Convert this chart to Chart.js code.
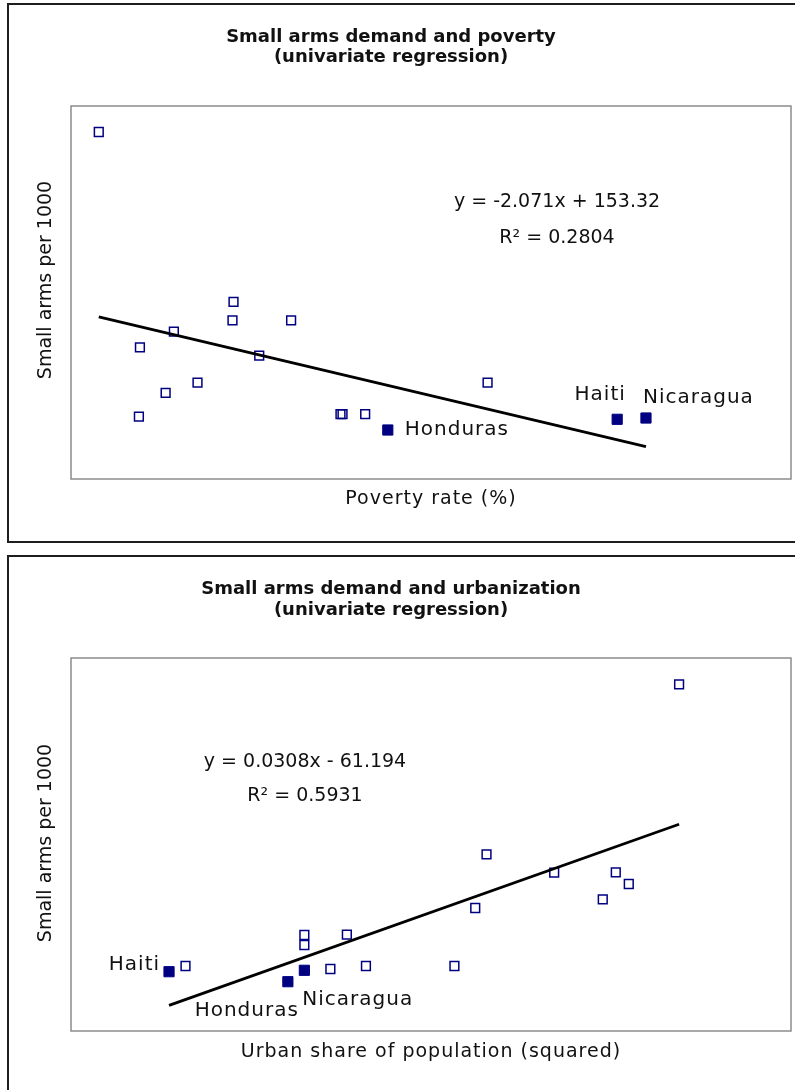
<!DOCTYPE html>
<html>
<head>
<meta charset="utf-8">
<title>Small arms demand</title>
<script src="https://cdn.jsdelivr.net/npm/chart.js@4.4.0/dist/chart.umd.min.js"></script>
<style>
  body { margin: 0; background: #fff; }
  #page { position: relative; width: 795px; height: 1090px; overflow: hidden; }
  .frame { position: absolute; left: 7px; width: 800px; border: 2px solid #1e1e1e; box-sizing: border-box; }
  .holder { position: absolute; left: 0; width: 795px; }
</style>
</head>
<body>
<div id="page">
  <div class="frame" style="top:3px;height:540px"></div>
  <div class="frame" style="top:555px;height:545px"></div>
  <div class="holder" style="top:0;height:548px"><canvas id="chartPoverty"></canvas></div>
  <div class="holder" style="top:548px;height:542px"><canvas id="chartUrban"></canvas></div>
</div>
<script>
// ---- poverty chart data (poverty rate %, small arms per 1000) ----
const povertyOpenX = [2.7, 6.7, 10.0, 15.8, 15.7, 21.4, 18.3, 9.2, 12.3, 6.6, 26.2, 26.4, 28.6, 40.5];
const povertyOpenY = [305.0, 121.9, 135.2, 160.5, 144.9, 144.9, 114.8, 83.1, 91.8, 62.9, 65.2, 65.2, 65.2, 91.8];
const povertyNames = ['Honduras', 'Haiti', 'Nicaragua'];
const povertyNamedX = [30.8, 53.1, 55.9];
const povertyNamedY = [51.6, 60.7, 61.8];
const povertySlope = -2.071;
const povertyIntercept = 153.32;
const povertyR2 = '0.2804';

// ---- urbanization chart data (urban share squared, small arms per 1000) ----
const urbanOpenX = [2390, 3760, 3760, 4250, 4060, 4470, 5490, 5730, 5860, 6640, 7350, 7500, 7200, 8080];
const urbanOpenY = [45.9, 76.9, 66.9, 77.2, 42.9, 45.9, 45.9, 103.9, 157.6, 139.2, 139.6, 127.9, 112.6, 327.6];
const urbanNames = ['Haiti', 'Honduras', 'Nicaragua'];
const urbanNamedX = [2200, 3570, 3760];
const urbanNamedY = [40.2, 30.2, 41.6];
const urbanSlope = 0.0308;
const urbanIntercept = -61.194;
const urbanR2 = '0.5931';

const NAVY = '#000080';
const FONT = '"DejaVu Sans", "Liberation Sans", sans-serif';

function toPoints(xs, ys) {
    return xs.map((x, i) => ({ x: x, y: ys[i] }));
}

// trendline over the range of x, from the fitted equation
function trendLine(allX, slope, intercept) {
    const lo = Math.min(...allX), hi = Math.max(...allX);
    return [{ x: lo, y: slope * lo + intercept }, { x: hi, y: slope * hi + intercept }];
}

function equationText(slope, intercept) {
    return 'y = ' + slope + 'x ' + (intercept < 0 ? '- ' : '+ ') + Math.abs(intercept);
}

// draws frame of plot area, titles, equation and country labels
const chartTexts = {
    id: 'chartTexts',
    beforeDatasetsDraw(chart) {
        const a = chart.chartArea, ctx = chart.ctx;
        ctx.save();
        ctx.strokeStyle = '#8c8c8c';
        ctx.lineWidth = 1.5;
        ctx.strokeRect(a.left, a.top, a.right - a.left, a.bottom - a.top);
        ctx.restore();
    },
    afterDraw(chart, args, o) {
        const ctx = chart.ctx, a = chart.chartArea;
        const xs = chart.scales.x, ys = chart.scales.y;
        ctx.save();
        ctx.fillStyle = '#111';
        ctx.textBaseline = 'alphabetic';
        ctx.textAlign = 'center';

        // title
        ctx.font = 'bold 18px ' + FONT;
        o.title.forEach((line, i) => ctx.fillText(line, o.titleX, o.titleY[i]));

        // axis titles
        ctx.textBaseline = 'middle';
        ctx.font = '19px ' + FONT;
        ctx.letterSpacing = '1px';
        ctx.fillText(o.xTitle, (a.left + a.right) / 2, o.xTitleY);
        ctx.letterSpacing = '0px';
        ctx.save();
        ctx.translate(o.yTitleX, o.yTitleY);
        ctx.rotate(-Math.PI / 2);
        ctx.fillText(o.yTitle, 0, 0);
        ctx.restore();

        // regression equation
        const ex = a.left + o.eqPos[0] * (a.right - a.left);
        ctx.fillText(o.equation, ex, a.top + o.eqPos[1] * (a.bottom - a.top));
        ctx.fillText('R\u00B2 = ' + o.r2, ex, a.top + o.eqPos[2] * (a.bottom - a.top));

        // country labels
        ctx.font = '20px ' + FONT;
        ctx.letterSpacing = '1px';
        o.names.forEach((name, i) => {
            const off = o.labelOffsets[i];
            ctx.textAlign = off[2];
            ctx.fillText(name, xs.getPixelForValue(o.namedX[i]) + off[0], ys.getPixelForValue(o.namedY[i]) + off[1]);
        });
        ctx.restore();
    }
};

function makeChart(id, cfg) {
    const allX = cfg.openX.concat(cfg.namedX);
    new Chart(document.getElementById(id), {
        type: 'scatter',
        data: {
            datasets: [
                {
                    label: 'Trend',
                    data: trendLine(allX, cfg.slope, cfg.intercept),
                    showLine: true,
                    borderColor: '#000',
                    borderWidth: 2.8,
                    pointRadius: 0,
                    order: 0
                },
                {
                    label: 'Countries',
                    data: toPoints(cfg.openX, cfg.openY),
                    pointStyle: 'rect',
                    pointRadius: 6.2,
                    borderWidth: 1.5,
                    borderColor: NAVY,
                    backgroundColor: 'rgba(0,0,0,0)',
                    order: 1
                },
                {
                    label: 'Highlighted',
                    data: toPoints(cfg.namedX, cfg.namedY),
                    pointStyle: 'rect',
                    pointRadius: 7.2,
                    borderWidth: 1,
                    borderColor: NAVY,
                    backgroundColor: NAVY,
                    order: 1
                }
            ]
        },
        options: {
            responsive: true,
            maintainAspectRatio: false,
            animation: false,
            events: [],
            layout: { padding: cfg.padding, autoPadding: false },
            scales: {
                x: { type: 'linear', display: false, min: cfg.xRange[0], max: cfg.xRange[1] },
                y: { type: 'linear', display: false, min: cfg.yRange[0], max: cfg.yRange[1] }
            },
            plugins: {
                legend: { display: false },
                tooltip: { enabled: false },
                chartTexts: {
                    title: cfg.title,
                    titleX: 391,
                    titleY: cfg.titleY,
                    xTitle: cfg.xTitle,
                    xTitleY: cfg.xTitleY,
                    yTitle: 'Small arms per 1000',
                    yTitleX: 46,
                    yTitleY: cfg.yTitleY,
                    equation: equationText(cfg.slope, cfg.intercept),
                    r2: cfg.r2,
                    eqPos: cfg.eqPos,
                    names: cfg.names,
                    namedX: cfg.namedX,
                    namedY: cfg.namedY,
                    labelOffsets: cfg.labelOffsets
                }
            }
        },
        plugins: [chartTexts]
    });
}

makeChart('chartPoverty', {
    openX: povertyOpenX, openY: povertyOpenY,
    names: povertyNames, namedX: povertyNamedX, namedY: povertyNamedY,
    slope: povertySlope, intercept: povertyIntercept, r2: povertyR2,
    xRange: [0, 70], yRange: [9.94, 327.1],
    padding: { left: 71, top: 106, right: 4, bottom: 69 },
    title: ['Small arms demand and poverty', '(univariate regression)'],
    titleY: [42, 62],
    xTitle: 'Poverty rate (%)', xTitleY: 499,
    yTitleY: 280,
    eqPos: [0.675, 0.257, 0.354],
    labelOffsets: [[17, 0, 'left'], [-17, -25, 'center'], [-3, -20, 'left']]
});

makeChart('chartUrban', {
    openX: urbanOpenX, openY: urbanOpenY,
    names: urbanNames, namedX: urbanNamedX, namedY: urbanNamedY,
    slope: urbanSlope, intercept: urbanIntercept, r2: urbanR2,
    xRange: [1070, 9370], yRange: [-19.1, 353.9],
    padding: { left: 71, top: 110, right: 4, bottom: 59 },
    title: ['Small arms demand and urbanization', '(univariate regression)'],
    titleY: [46, 67],
    xTitle: 'Urban share of population (squared)', xTitleY: 504,
    yTitleY: 295,
    eqPos: [0.325, 0.279, 0.370],
    labelOffsets: [[-9, -7, 'right'], [11, 29, 'right'], [-2, 29, 'left']]
});
</script>
</body>
</html>
